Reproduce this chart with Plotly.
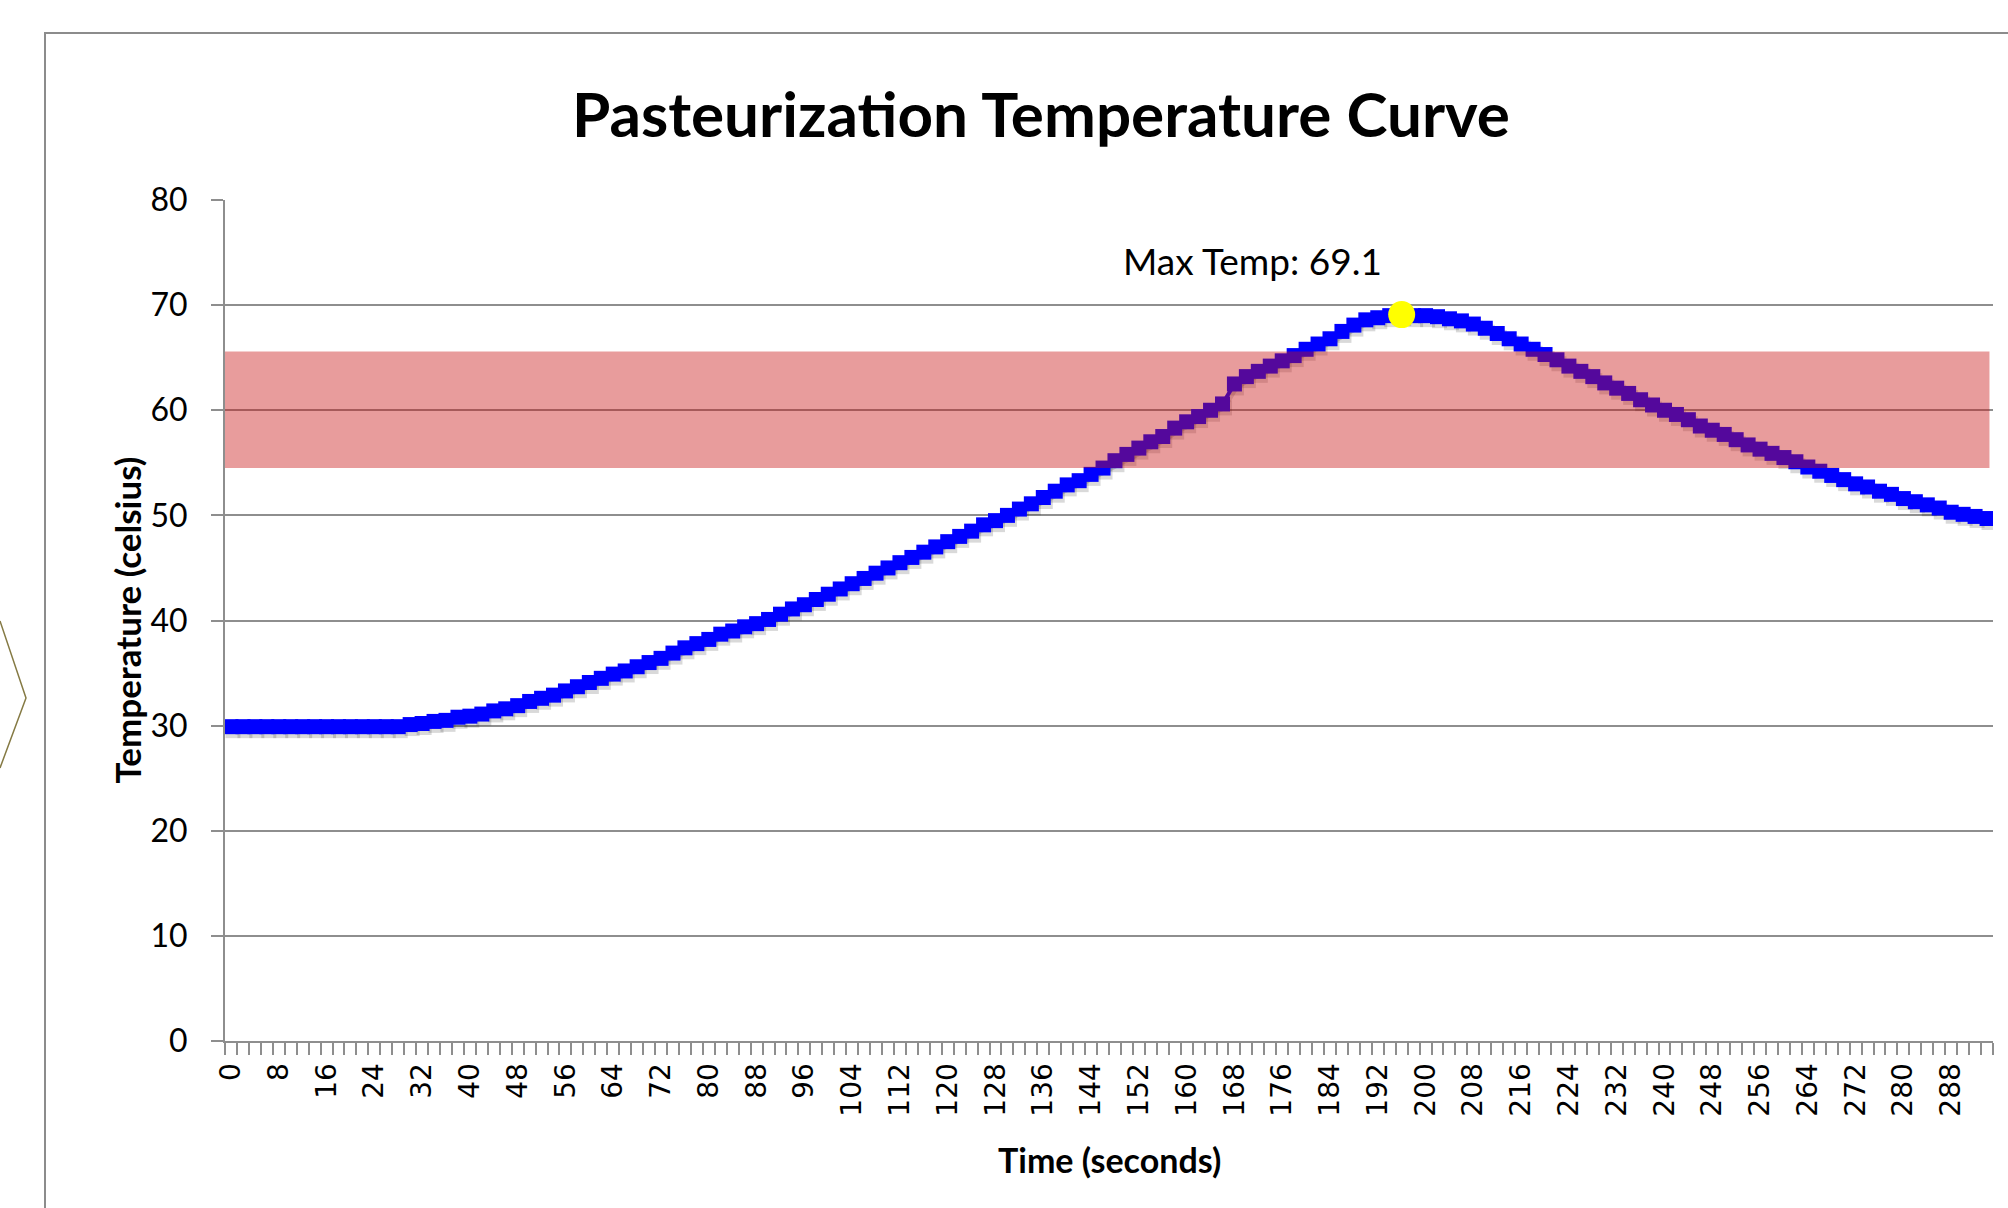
import plotly.graph_objects as go

# ---------------- data ----------------
time_s = list(range(0, 296, 2))  # 0..294 seconds, 148 samples
temperature_c = [
    29.9, 29.9, 29.9, 29.9, 29.9, 29.9, 29.9, 29.9, 29.9, 29.9,
    29.9, 29.9, 29.9, 29.9, 29.9, 30.1, 30.2, 30.4, 30.5, 30.8,
    30.9, 31.1, 31.4, 31.6, 31.9, 32.3, 32.6, 32.9, 33.3, 33.7,
    34.1, 34.5, 34.9, 35.2, 35.6, 36.0, 36.4, 36.9, 37.4, 37.8,
    38.2, 38.7, 39.0, 39.4, 39.7, 40.1, 40.6, 41.1, 41.5, 42.0,
    42.5, 43.0, 43.5, 44.0, 44.5, 45.0, 45.5, 46.0, 46.5, 47.0,
    47.5, 48.0, 48.5, 49.1, 49.5, 50.0, 50.6, 51.1, 51.7, 52.3,
    52.9, 53.3, 53.9, 54.5, 55.2, 55.8, 56.4, 57.0, 57.5, 58.3,
    58.9, 59.4, 60.0, 60.6, 62.5, 63.2, 63.7, 64.2, 64.7, 65.2,
    65.8, 66.3, 66.8, 67.5, 68.1, 68.6, 68.8, 69.0, 69.1, 69.0,
    69.0, 68.9, 68.7, 68.5, 68.2, 67.8, 67.3, 66.8, 66.3, 65.8,
    65.3, 64.8, 64.2, 63.7, 63.2, 62.6, 62.1, 61.6, 61.0, 60.5,
    60.0, 59.6, 59.1, 58.5, 58.1, 57.7, 57.2, 56.7, 56.3, 55.9,
    55.5, 55.1, 54.6, 54.2, 53.8, 53.4, 53.0, 52.7, 52.3, 52.0,
    51.6, 51.3, 51.0, 50.7, 50.3, 50.1, 49.9, 49.7,
]
x_tick_values = list(range(0, 289, 8))
x_tick_labels = [str(v) for v in x_tick_values]
y_tick_values = [0, 10, 20, 30, 40, 50, 60, 70, 80]
target_band = [54.5, 65.6]  # pasteurization window (celsius)

peak_idx = max(range(len(temperature_c)), key=lambda i: temperature_c[i])
peak_time = [time_s[peak_idx]]
peak_temp = [temperature_c[peak_idx]]

# ---------------- styling ----------------
W, H = 2008, 1208
ML, MR, MT, MB = 225, 15, 200, 167
PW, PH = W - ML - MR, H - MT - MB
GRID = "#8e8e8e"
X_RANGE = [-1, 295]
Y_RANGE = [0, 80]
# shadow offset (pixels -> axis units)
sdx = 2 * (X_RANGE[1] - X_RANGE[0]) / PW
sdy = 4 * (Y_RANGE[1] - Y_RANGE[0]) / PH

def px_x(p):
    return (p - ML) / PW

def px_y(p):
    return (H - MB - p) / PH

fig = go.Figure()

# soft drop shadow of the curve
fig.add_trace(go.Scatter(
    x=time_s, y=temperature_c, xaxis="x2", yaxis="y2",
    mode="lines+markers",
    line=dict(color="rgba(0,0,0,0.15)", width=4),
    marker=dict(symbol="square", size=15, color="rgba(0,0,0,0.15)"),
    hoverinfo="skip", showlegend=False,
))

# main curve
fig.add_trace(go.Scatter(
    x=time_s, y=temperature_c, xaxis="x3", yaxis="y3",
    mode="lines+markers",
    line=dict(color="#0000FF", width=4),
    marker=dict(symbol="square", size=15, color="#0000FF"),
    showlegend=False,
))

# max point
fig.add_trace(go.Scatter(
    x=peak_time, y=peak_temp, xaxis="x3", yaxis="y3",
    mode="markers",
    marker=dict(symbol="circle", size=27, color="#FFFF00"),
    showlegend=False,
))

axis_font = dict(family="Lato", size=32, color="#000000")

fig.update_layout(
    width=W, height=H, autosize=False,
    margin=dict(l=ML, r=MR, t=MT, b=MB, pad=0),
    paper_bgcolor="white", plot_bgcolor="white",
    showlegend=False,
    title=dict(
        text="<b>Pasteurization Temperature Curve</b>",
        font=dict(family="Lato", size=62, color="#000000"),
        xref="container", x=1041 / W, xanchor="center",
        yref="container", y=1 - 115 / H, yanchor="middle",
    ),
    xaxis=dict(
        range=X_RANGE, showgrid=False, zeroline=False,
        showline=True, linecolor=GRID, linewidth=2,
        tickmode="array", tickvals=x_tick_values, ticktext=x_tick_labels,
        ticks="", tickangle=-90, ticklabelstandoff=9,
        tickfont=dict(family="DejaVu Sans", size=28, color="#000000"),
        minor=dict(tickmode="linear", tick0=-1, dtick=2, ticks="outside",
                   ticklen=12, tickwidth=1.5, tickcolor=GRID, showgrid=False),
        fixedrange=True,
    ),
    yaxis=dict(
        range=Y_RANGE, tickmode="array", tickvals=y_tick_values,
        showgrid=True, gridcolor=GRID, gridwidth=2, zeroline=False,
        showline=True, linecolor=GRID, linewidth=2,
        ticks="outside", ticklen=12, tickwidth=2, tickcolor=GRID,
        ticklabelstandoff=17, tickfont=axis_font, fixedrange=True,
    ),
    xaxis2=dict(overlaying="x", range=[X_RANGE[0] - sdx, X_RANGE[1] - sdx],
                visible=False, fixedrange=True),
    yaxis2=dict(overlaying="y", range=[Y_RANGE[0] + sdy, Y_RANGE[1] + sdy],
                visible=False, fixedrange=True),
    xaxis3=dict(overlaying="x", range=X_RANGE, visible=False, fixedrange=True),
    yaxis3=dict(overlaying="y", range=Y_RANGE, visible=False, fixedrange=True),
)

# translucent red pasteurization band (drawn over the curve)
fig.add_shape(type="rect", xref="x domain", yref="y",
              x0=0, x1=0.998, y0=target_band[0], y1=target_band[1],
              fillcolor="rgba(200,20,20,0.42)", line=dict(width=0), layer="above")

# outer chart frame
fig.add_shape(type="rect", xref="paper", yref="paper",
              x0=px_x(45), x1=px_x(W + 20), y0=px_y(H + 20), y1=px_y(33),
              line=dict(color="#8c8c8c", width=2), fillcolor="rgba(0,0,0,0)",
              layer="below")

# chevron at left edge
fig.add_shape(type="path", xref="paper", yref="paper",
              path=f"M {px_x(0)},{px_y(621)} L {px_x(26)},{px_y(698)} L {px_x(0)},{px_y(768)}",
              line=dict(color="#857a44", width=1.5))

# labels
fig.add_annotation(x=peak_time[0], y=peak_temp[0], xref="x", yref="y",
                   text=f"Max Temp: {peak_temp[0]}", showarrow=False,
                   xanchor="center", yanchor="middle", xshift=-149, yshift=54,
                   font=dict(family="Lato", size=37, color="#000000"))
fig.add_annotation(x=0.5, y=px_y(1159), xref="paper", yref="paper",
                   text="<b>Time (seconds)</b>", showarrow=False,
                   xanchor="center", yanchor="middle",
                   font=dict(family="Lato", size=34, color="#000000"))
fig.add_annotation(x=px_x(126), y=0.5, xref="paper", yref="paper",
                   text="<b>Temperature (celsius)</b>", showarrow=False,
                   textangle=-90, xanchor="center", yanchor="middle",
                   font=dict(family="Lato", size=35, color="#000000"))

fig.write_html("out.html", config={"displayModeBar": False},
               post_script="document.body.style.margin='0';")
